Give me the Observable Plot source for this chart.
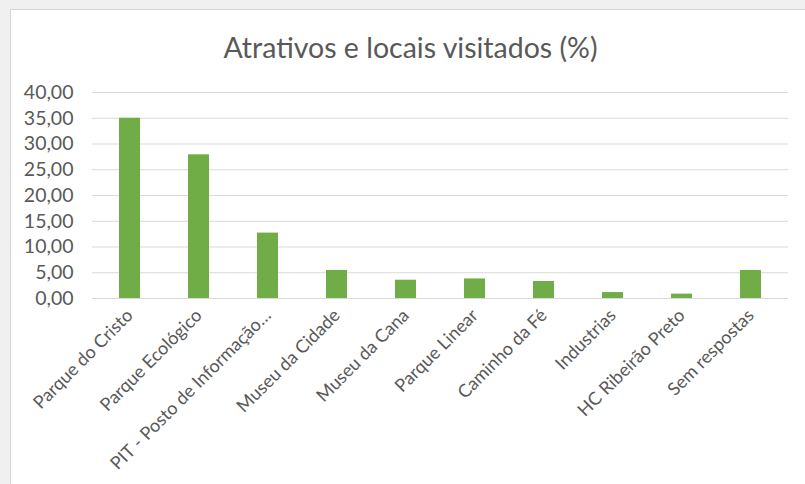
<!DOCTYPE html>
<html>
<head>
<meta charset="utf-8">
<script src="https://cdn.jsdelivr.net/npm/d3@7"></script>
<script src="https://cdn.jsdelivr.net/npm/@observablehq/plot@0.6"></script>
<style>
  html, body { margin: 0; padding: 0; background: #f0f0f0; width: 805px; height: 484px; overflow: hidden; }
  #frame { position: absolute; left: 10px; top: 9px; width: 800px; height: 480px; background: #ffffff;
           border-left: 1px solid #d6d6d6; border-top: 1px solid #d6d6d6; }
  #title { position: absolute; left: 8px; top: 33px; width: 805px; text-align: center; line-height: 1;
           font-family: Lato, sans-serif; font-size: 28.5px; color: #595959; }
  #chart { position: absolute; left: 0; top: 70px; }
</style>
</head>
<body>
<div id="frame"></div>
<div id="title">Atrativos e locais visitados (%)</div>
<div id="chart"></div>
<script>
const categories = [
  "Parque do Cristo",
  "Parque Ecológico",
  "PIT - Posto de Informação…",
  "Museu da Cidade",
  "Museu da Cana",
  "Parque Linear",
  "Caminho da Fé",
  "Industrias",
  "HC Ribeirão Preto",
  "Sem respostas"
];
const values = [35.0, 27.9, 12.7, 5.45, 3.55, 3.8, 3.3, 1.15, 0.85, 5.45];
const yTicks = [0, 5, 10, 15, 20, 25, 30, 35, 40];

const data = categories.map((c, i) => ({ category: c, value: values[i] }));
const fmt = v => d3.format(".2f")(v).replace(".", ",");

const chart = Plot.plot({
  width: 805,
  height: 414,
  marginTop: 22,
  marginBottom: 186,
  marginLeft: 92,
  marginRight: 17,
  style: { fontFamily: "Lato, sans-serif", fontSize: "18px", color: "#595959", background: "transparent" },
  x: { domain: categories, paddingInner: 0.69, paddingOuter: 0.345, label: null },
  y: { domain: [0, 40], ticks: yTicks, label: null },
  marks: [
    Plot.ruleY(yTicks, { stroke: "#d9d9d9", strokeWidth: 1.2 }),
    Plot.barY(data, { x: "category", y: "value", fill: "#70ad47" }),
    Plot.axisY({ ticks: yTicks, tickFormat: fmt, tickSize: 0, tickPadding: 19, label: null, fill: "#595959", fontSize: 19.5 }),
    Plot.axisX({ tickSize: 0, tickRotate: -45, tickPadding: 14, label: null, fill: "#595959", fontSize: 18 })
  ]
});
document.getElementById("chart").appendChild(chart);
</script>
</body>
</html>
